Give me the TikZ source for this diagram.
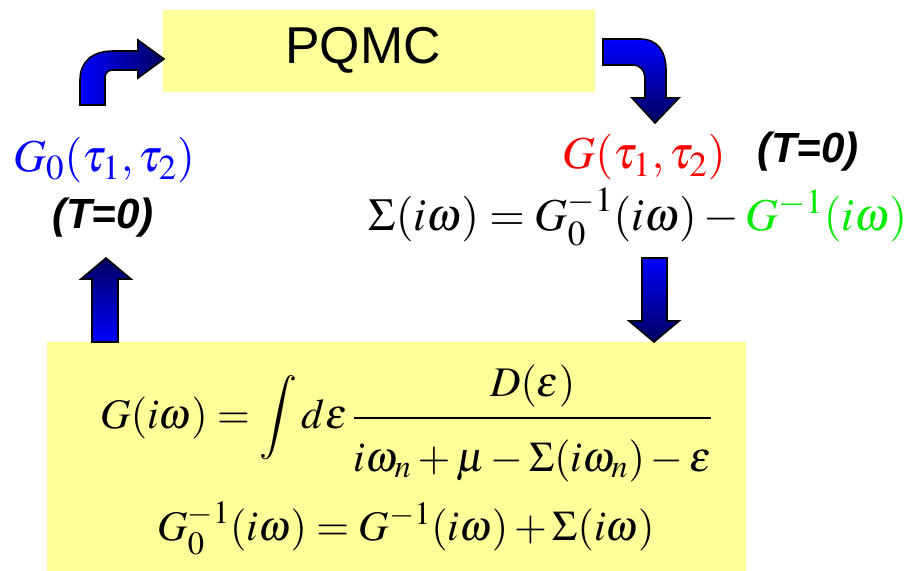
\documentclass[tikz,border=0pt]{standalone}
\usepackage{mathptmx}
\usepackage[no-math]{fontspec}
\newfontfamily\arialfont{Liberation Sans}
\usepackage{tikz}
\usetikzlibrary{calc}
\DeclareMathSizes{26}{26}{20}{16}
\DeclareMathSizes{24}{24}{18.5}{15}
\definecolor{boxyellow}{RGB}{255,255,153}
\definecolor{arrowblue}{RGB}{0,0,255}
\definecolor{arrownavy}{RGB}{0,0,96}
\definecolor{eqblue}{RGB}{0,0,255}
\definecolor{eqred}{RGB}{255,0,0}
\definecolor{eqgreen}{RGB}{0,235,0}

\begin{document}
\begin{tikzpicture}[x=0.02cm, y=-0.02cm,
  panel/.style={fill=boxyellow, draw=none},
  blockarrow/.style={draw=black, line width=0.9pt, line join=miter},
  eq/.style={font=\fontsize{26}{30}\selectfont, inner sep=0pt},
  boxeq/.style={font=\fontsize{24}{28}\selectfont, inner sep=0pt},
  tnote/.style={font=\arialfont\bfseries\itshape\fontsize{24}{28}\selectfont, inner sep=0pt},
  title/.style={font=\arialfont\fontsize{29.5}{34}\selectfont, inner sep=0pt}]

\useasboundingbox (0,0) rectangle (909,571);

% the two yellow boxes
\fill[boxyellow] (163,10) rectangle (595,92);
\fill[boxyellow] (47,342) rectangle (746,571);
\node[title] (pqmc) at (363,50) {PQMC};

% left side: free propagator
\node[eq, text=eqblue] (gzero) at (104,160) {$G_0(\tau_1,\tau_2)$};
\node[tnote] (tleft) at (103,218) {(T=0)};

% right side: interacting propagator and self energy
\node[eq, text=eqred] (gfull) at (644,157) {$G(\tau_1,\tau_2)$};
\node[tnote] (tright) at (808,152) {(T=0)};
\node[eq] (sigma) at (638,217) {$\Sigma(i\omega)=G_0^{-1}(i\omega)-{\color{eqgreen}G^{-1}(i\omega)}$};

% lattice sum in the lower box
\node[boxeq] (lattice) at (407,423) {$G(i\omega)=\displaystyle\int d\varepsilon\,\frac{D(\varepsilon)\rule[-9pt]{0pt}{0pt}}{\rule{0pt}{27pt}i\omega_n+\mu-\Sigma(i\omega_n)-\varepsilon}$};
\node[boxeq] (dyson) at (406,528) {$G_0^{-1}(i\omega)=G^{-1}(i\omega)+\Sigma(i\omega)$};

% block arrows
\shadedraw[blockarrow, left color=arrowblue, right color=arrownavy]
  (80,105) -- (80,80) .. controls (80,62) and (92,51) .. (113,51) -- (138,51) -- (138,40) -- (164,59)
  -- (138,78) -- (138,70) -- (113,70) .. controls (108,70) and (105,73) .. (105,78) -- (105,105) -- cycle;
\shadedraw[blockarrow, top color=arrowblue, bottom color=arrownavy]
  (603,39) -- (640,39) .. controls (658,39) and (666,52) .. (666,70) -- (666,98) -- (679,98) -- (655,123)
  -- (632,98) -- (645,98) -- (645,80) .. controls (645,70) and (640,65) .. (633,65) -- (603,65) -- cycle;
\shadedraw[blockarrow, top color=arrowblue, bottom color=arrownavy]
  (642,258) -- (667,258) -- (667,321) -- (679,321) -- (654,342) -- (629,321) -- (642,321) -- cycle;
\shadedraw[blockarrow, top color=arrownavy, bottom color=arrowblue]
  (92,342) -- (92,279) -- (81,279) -- (106,258) -- (131,279) -- (118,279) -- (118,342) -- cycle;

\end{tikzpicture}
\end{document}
